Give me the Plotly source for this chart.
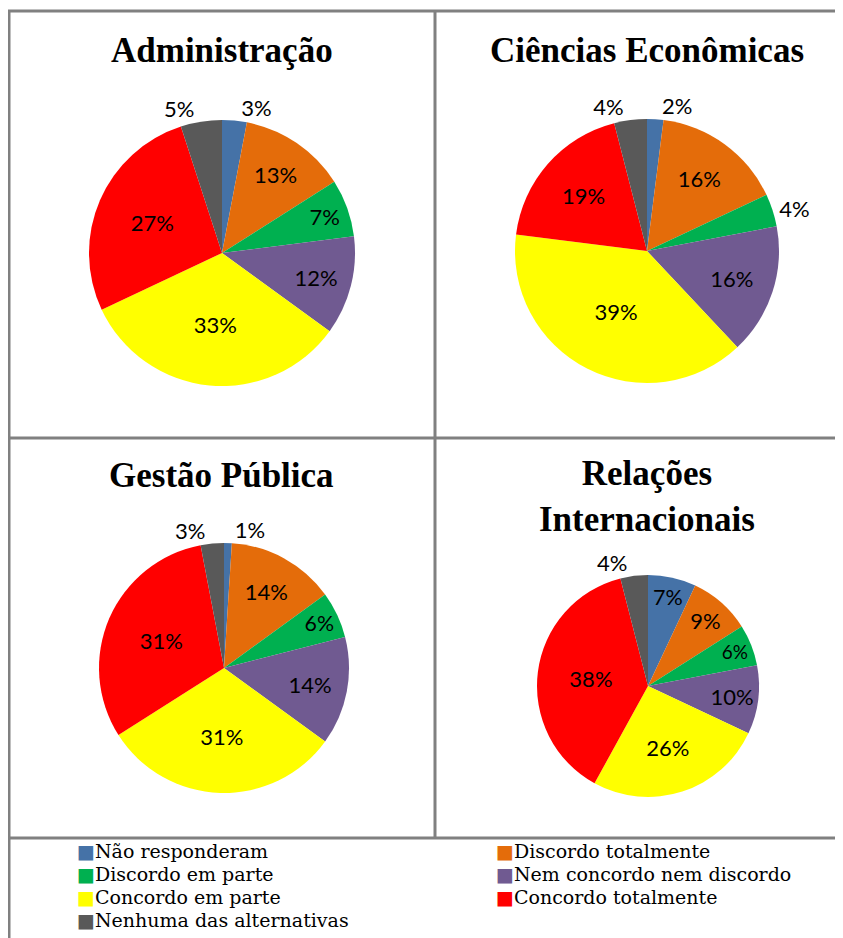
import plotly.graph_objects as go

categories = [
    "Não responderam", "Discordo totalmente", "Discordo em parte",
    "Nem concordo nem discordo", "Concordo em parte", "Concordo totalmente",
    "Nenhuma das alternativas",
]
colors = ["#4572A7", "#E46C0A", "#00B050", "#705A91", "#FFFF00", "#FF0000", "#595959"]

administracao = [3, 13, 7, 12, 33, 27, 5]
ciencias_economicas = [2, 16, 4, 16, 39, 19, 4]
gestao_publica = [1, 14, 6, 14, 31, 31, 3]
relacoes_internacionais = [7, 9, 6, 10, 26, 38, 4]

# the page body adds an 8px margin, so the figure is 8px smaller each way
OFF = 8
W, H = 843 - OFF, 938 - OFF


def fx(x):
    return (x - OFF) / W


def fy(y):
    return 1 - (y - OFF) / H


def px_dom(cx, cy, r):
    return dict(x=[fx(cx - r), fx(cx + r)], y=[fy(cy + r), fy(cy - r)])


panels = [
    ("Administração", administracao, (222, 253, 133), (222, 50)),
    ("Ciências Econômicas", ciencias_economicas, (647, 251, 132), (647, 50)),
    ("Gestão Pública", gestao_publica, (224, 668, 125), (221, 476)),
    ("Relações<br>Internacionais", relacoes_internacionais, (648, 686, 111), (647, 496)),
]

fig = go.Figure()
for title, vals, (cx, cy, r), (tx, ty) in panels:
    pos = ["inside" if v >= 6 else "outside" for v in vals]
    fig.add_trace(go.Pie(
        labels=categories, values=vals, sort=False, direction="clockwise",
        rotation=0, domain=px_dom(cx, cy, r),
        marker=dict(colors=colors, line=dict(width=0)),
        texttemplate="%{value}%", textposition=pos,
        insidetextorientation="horizontal",
        textfont=dict(family="Lato", size=22, color="black"),
        showlegend=False, hoverinfo="label+value",
    ))
    fig.add_annotation(
        text=f"<b>{title}</b>", x=fx(tx), y=fy(ty), xref="paper", yref="paper",
        showarrow=False, font=dict(family="Liberation Serif", size=35, color="black"),
        xanchor="center", yanchor="middle",
    )

# legend: two columns, row-major like the original
for i, (cat, col) in enumerate(zip(categories, colors)):
    lx = [76, 495][i % 2]
    ly = 851 + (i // 2) * 23
    fig.add_annotation(
        text=f"<span style='color:{col}'>■</span>{cat}",
        x=fx(lx), y=fy(ly), xref="paper", yref="paper", showarrow=False,
        xanchor="left", yanchor="middle", borderpad=0,
        font=dict(family="DejaVu Serif", size=19, color="black"),
    )

# panel borders
line = dict(color="#808080", width=3)
for x0, y0, x1, y1 in [
    (8, 11, 843, 11), (9, 11, 9, 938), (8, 438, 843, 438), (8, 838, 843, 838),
    (435, 11, 435, 838),
]:
    fig.add_shape(type="line", x0=fx(x0), x1=fx(x1), y0=fy(y0), y1=fy(y1),
                  xref="paper", yref="paper", line=line)

fig.update_layout(
    width=W, height=H, margin=dict(l=0, r=0, t=0, b=0),
    paper_bgcolor="white", plot_bgcolor="white", showlegend=False,
)
fig.write_html("out.html")
